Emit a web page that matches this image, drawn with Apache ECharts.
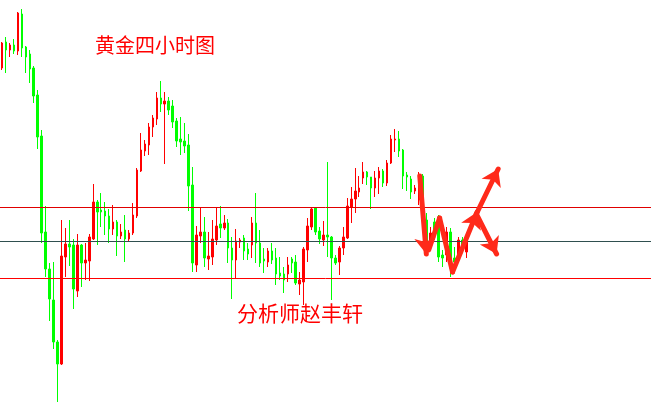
<!DOCTYPE html>
<html>
<head>
<meta charset="utf-8">
<script src="https://cdn.jsdelivr.net/npm/echarts@6/dist/echarts.min.js"></script>
<style>html,body{margin:0;padding:0;background:#fff;}#c{width:651px;height:412px;}</style>
</head>
<body>
<div id="c"></div>
<script>
// Candle values (arbitrary price units), one entry per 4-hour bar
var opens = [344,370,362,367,361,398,365,358,344,317,276,180,143,112,70,48,155,168,167,121,
  167,149,151,173,210,202,201,196,183,190,176,182,173,179,196,241,261,267,285,293,
  314,308,311,306,291,273,271,267,227,147,176,180,153,155,172,188,184,189,164,152,
  170,174,163,167,189,169,153,150,161,154,139,138,138,153,150,128,130,162,185,204,
  181,172,177,175,154,150,164,174,205,213,220,234,240,235,224,234,241,229,249,272,
  273,262,237,233,221,212,236,192,169,190,195,157,157,180,154,155,172,160];
var closes = [369,362,367,361,399,364,355,343,316,275,179,143,113,70,48,156,168,165,123,167,
  149,152,175,210,200,200,196,183,190,176,180,173,179,197,242,262,268,285,294,314,
  308,311,302,290,271,270,266,226,149,177,180,154,156,173,186,184,189,164,152,171,
  172,161,158,189,169,149,151,161,152,138,136,132,147,149,129,132,163,186,203,180,
  173,177,175,154,149,164,175,206,213,221,224,240,235,224,234,241,229,249,273,273,
  261,236,235,220,224,236,197,159,179,180,155,154,180,144,150,172,164,172];
var lows = [342,339,355,358,357,355,339,329,309,263,169,135,91,63,10,47,135,146,103,115,
  125,132,131,172,167,185,177,169,177,156,173,150,170,177,194,240,256,257,275,287,
  300,248,297,284,265,257,259,201,140,140,169,145,142,147,167,174,182,149,113,134,
  164,152,152,154,149,145,139,145,148,127,132,119,130,139,127,117,107,150,182,177,
  168,166,155,112,147,137,157,173,189,199,215,228,227,203,215,218,225,226,248,260,
  255,223,221,213,218,207,190,156,162,172,150,145,150,135,147,152,160,154];
var highs = [370,375,369,373,400,403,366,362,346,322,282,206,149,150,72,192,184,192,173,178,
  168,169,178,228,212,219,210,203,207,192,188,197,182,209,244,279,272,289,297,320,
  331,320,315,312,294,295,289,278,245,186,205,195,180,192,205,206,197,193,175,183,
  174,177,169,195,219,182,164,164,169,164,155,145,155,155,157,140,165,194,205,205,
  185,191,250,176,157,166,185,214,225,244,236,250,241,235,241,245,243,252,277,283,
  281,263,240,236,227,240,238,199,185,194,197,162,185,184,165,175,175,177];
// horizontal levels
var levelUpper = 205;
var levelMiddle = 171;
var levelLower = 134;
// hand-drawn forecast arrows: [bar index, price]
var arrowDown1 = [[105.25,236],[106.9,158]];
var zigzagPlain = [[[107.5,162],[110.25,194]], [[110.25,194],[113.5,140]]];
var zigzagHead = [[113.5,140],[119.7,200]];
var arrowUp = [[119.5,198],[125,243]];
var arrowDown2 = [[119.5,198],[124.6,158]];
var titleText = '黄金四小时图';
var authorText = '分析师赵丰轩';
var totalSlots = 164;

var cats = [];
for (var i = 0; i < totalSlots; i++) cats.push(String(i));
var ohlc = [];
for (var j = 0; j < totalSlots; j++) {
  if (j < opens.length) ohlc.push([opens[j], closes[j], lows[j], highs[j]]);
  else ohlc.push('-');
}

var chart = echarts.init(document.getElementById('c'), null, {renderer:'canvas'});
var arrowColor = '#ff2a1a';
chart.setOption({
  animation: false,
  backgroundColor: '#ffffff',
  grid: {left: -3, top: 0, width: 656, height: 412, containLabel: false},
  xAxis: [
    {type: 'category', data: cats, show: false, boundaryGap: true},
    {type: 'value', min: -0.5, max: 163.5, show: false}
  ],
  yAxis: [{type: 'value', min: 0, max: 412, show: false, splitLine: {show: false}}],
  series: [
    {
      type: 'candlestick',
      xAxisIndex: 0,
      data: ohlc,
      barWidth: 2,
      itemStyle: {
        color: '#ff0000', color0: '#00ff00',
        borderColor: '#ff0000', borderColor0: '#00ff00', borderWidth: 1
      },
      markLine: {
        silent: true, symbol: 'none', animation: false,
        label: {show: false},
        data: [
          {yAxis: levelUpper, lineStyle: {color: '#e00000', width: 1, type: 'solid'}},
          {yAxis: levelMiddle, lineStyle: {color: '#2f4f4f', width: 1, type: 'solid'}},
          {yAxis: levelLower, lineStyle: {color: '#ff0000', width: 1, type: 'solid'}}
        ]
      },
      z: 2
    },
    {
      type: 'lines',
      coordinateSystem: 'cartesian2d',
      xAxisIndex: 1, yAxisIndex: 0,
      symbol: ['none', 'none'],
      lineStyle: {color: arrowColor, width: 5, opacity: 1, cap: 'round'},
      data: zigzagPlain.map(function (c) { return {coords: c}; }),
      z: 5
    },
    {
      type: 'lines',
      coordinateSystem: 'cartesian2d',
      xAxisIndex: 1, yAxisIndex: 0,
      symbol: ['none', 'arrow'],
      symbolSize: 16,
      lineStyle: {color: arrowColor, width: 5, opacity: 1, cap: 'round'},
      data: [
        {coords: arrowDown1},
        {coords: zigzagHead},
        {coords: arrowUp},
        {coords: arrowDown2}
      ],
      z: 6
    }
  ],
  graphic: [
    {type: 'text', left: 95, top: 35, style: {text: titleText, fill: '#ff0000', font: '20px "Noto Sans CJK SC"'}},
    {type: 'text', left: 237, top: 303, style: {text: authorText, fill: '#ff0000', font: '21px "Noto Sans CJK SC"'}}
  ]
});
</script>
</body>
</html>
